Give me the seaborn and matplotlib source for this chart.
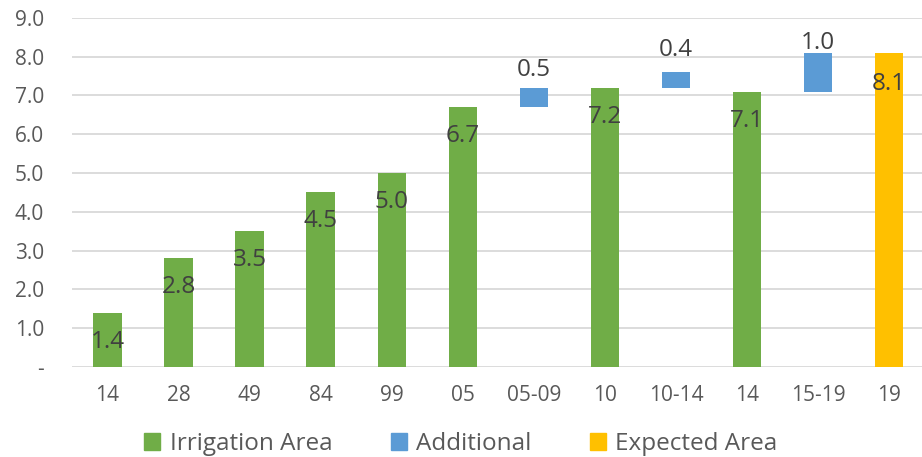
import numpy as np
import pandas as pd
import matplotlib.pyplot as plt
import seaborn as sns
from matplotlib.patches import Patch

# chart values
categories = ['14', '28', '49', '84', '99', '05', '05-09', '10', '10-14', '14', '15-19', '19']
irrigation = [1.4, 2.8, 3.5, 4.5, 5.0, 6.7, 0, 7.2, 0, 7.1, 0, 0]
additional_base = [0, 0, 0, 0, 0, 0, 6.7, 0, 7.2, 0, 7.1, 0]
additional = [0, 0, 0, 0, 0, 0, 0.5, 0, 0.4, 0, 1.0, 0]
expected = [0, 0, 0, 0, 0, 0, 0, 0, 0, 0, 0, 8.1]
yticks = [0, 1, 2, 3, 4, 5, 6, 7, 8, 9]

GREEN = '#70AD47'
BLUE = '#5B9BD5'
YELLOW = '#FFC000'
TICK_COL = '#595959'
LABEL_COL = '#404040'

df = pd.DataFrame({'pos': range(len(categories)),
                   'irrigation': irrigation,
                   'base': additional_base,
                   'additional': additional,
                   'expected': expected})

sns.set_theme(style='whitegrid')
plt.rcParams['font.family'] = ['Open Sans', 'DejaVu Sans']

fig = plt.figure(figsize=(9.22, 4.57), dpi=100)
ax = fig.add_axes([0.078, 0.197, 0.925, 0.764])

w = 0.4
sns.barplot(data=df, x='pos', y='irrigation', color=GREEN, width=w,
            saturation=1, linewidth=0, ax=ax)
sns.barplot(data=df, x='pos', y='expected', color=YELLOW, width=w,
            saturation=1, linewidth=0, ax=ax)
ax.bar(df['pos'], df['additional'], bottom=df['base'], width=w,
       color=BLUE, linewidth=0)

# data labels
px = 0.72  # points per pixel
lab_size = 17.5
for i, v in enumerate(irrigation):
    if v > 0:
        ax.annotate(f'{v:.1f}', (i, v), xytext=(0, -29 * px), textcoords='offset points',
                    ha='center', va='center', fontsize=lab_size, color=LABEL_COL)
above = {6: 18, 8: 22, 10: 10}
for i, v in enumerate(additional):
    if v > 0:
        ax.annotate(f'{v:.1f}', (i, additional_base[i] + v), xytext=(0, above[i] * px),
                    textcoords='offset points', ha='center', va='center',
                    fontsize=lab_size, color=LABEL_COL)
for i, v in enumerate(expected):
    if v > 0:
        ax.annotate(f'{v:.1f}', (i, v), xytext=(0, -31 * px), textcoords='offset points',
                    ha='center', va='center', fontsize=lab_size, color=LABEL_COL)

ax.set_xlim(-0.5, len(categories) - 0.5)
ax.set_ylim(0, 9)
ax.set_yticks(yticks)
ax.set_yticklabels(['-' if t == 0 else f'{t:.1f}' for t in yticks])
ax.set_xticks(range(len(categories)))
ax.set_xticklabels(categories)
ax.set_xlabel('')
ax.set_ylabel('')
ax.grid(axis='y', color='#D9D9D9', linewidth=1.3)
ax.grid(axis='x', visible=False)
ax.set_axisbelow(True)
for s in ax.spines.values():
    s.set_visible(False)
ax.tick_params(axis='y', length=0, pad=20, labelsize=15, labelcolor=TICK_COL)
ax.tick_params(axis='x', length=0, pad=13, labelsize=15, labelcolor=TICK_COL)

handles = [Patch(color=GREEN, label='Irrigation Area'),
           Patch(color=BLUE, label='Additional'),
           Patch(color=YELLOW, label='Expected Area')]
fig.legend(handles=handles, loc='center', bbox_to_anchor=(0.5, 1 - 444 / 457), ncol=3,
           frameon=False, fontsize=17.5, labelcolor=TICK_COL, handlelength=0.65,
           handleheight=0.65, handletextpad=0.4, columnspacing=2.4)

fig.savefig('out.png', dpi=100)
